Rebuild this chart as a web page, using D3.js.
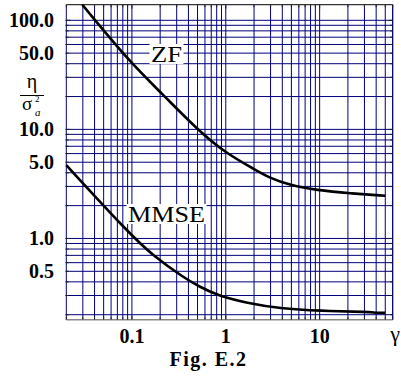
<!DOCTYPE html>
<html>
<head>
<meta charset="utf-8">
<script src="https://cdn.jsdelivr.net/npm/d3@7"></script>
<style>
  html, body { margin: 0; padding: 0; background: #fff; }
  svg { display: block; }
</style>
</head>
<body>
<svg id="chart" width="401" height="380"></svg>
<script>
// ---- data ----
const gammaZF = [0.0296, 0.0976, 0.204, 0.503, 1.01, 1.95, 2.94, 4.81, 9.29, 21.1, 49.9];
const etaZF   = [139, 40.3, 21.8, 9.85, 6.02, 4.39, 3.58, 3.08, 2.77, 2.59, 2.46];
const gammaMMSE = [0.02, 0.0936, 0.166, 0.348, 0.525, 0.858, 1.66, 3.76, 10.1, 34.5, 38.9, 49.9];
const etaMMSE   = [4.70, 1.11, 0.703, 0.444, 0.360, 0.296, 0.257, 0.228, 0.217, 0.212, 0.208, 0.208];
const xTickValues = [0.1, 1, 10];
const xTickLabels = ["0.1", "1", "10"];
const yTickValues = [100, 50, 10, 5, 1, 0.5];
const yTickLabels = ["100.0", "50.0", "10.0", "5.0", "1.0", "0.5"];
const xGrid = [0.02,0.03,0.04,0.05,0.06,0.07,0.08,0.09,0.1,0.2,0.3,0.4,0.5,0.6,0.7,0.8,0.9,1,2,3,4,5,6,7,8,9,10,20,30,40,50,60];
const yGrid = [0.2,0.3,0.4,0.5,0.6,0.7,0.8,0.9,1,2,3,4,5,6,7,8,9,10,20,30,40,50,60,70,80,90,100];
const seriesNames = ["ZF", "MMSE"];

// ---- layout ----
const pL = 66.3, pR = 392.7, pT = 4.7, pB = 319.7;
const x = d3.scaleLog().domain([0.02, 60]).range([pL, pR]);
const y = d3.scaleLog().domain([0.18, 139]).range([pB, pT]);

const svg = d3.select("#chart");
const navy = "#00007a";
const serif = "'Liberation Serif', 'Times New Roman', serif";

// grid
const g = svg.append("g");
g.selectAll("line.vx").data(xGrid).join("line")
  .attr("x1", d => x(d)).attr("x2", d => x(d))
  .attr("y1", pT).attr("y2", pB)
  .attr("stroke", navy).attr("stroke-width", 1);
g.selectAll("line.hy").data(yGrid).join("line")
  .attr("y1", d => y(d)).attr("y2", d => y(d))
  .attr("x1", pL).attr("x2", pR)
  .attr("stroke", navy).attr("stroke-width", 1);

// frame
svg.append("line").attr("x1", pL).attr("x2", pR).attr("y1", pT).attr("y2", pT)
  .attr("stroke", "#333").attr("stroke-width", 1.2);
svg.append("line").attr("x1", pL).attr("x2", pR).attr("y1", pB).attr("y2", pB)
  .attr("stroke", "#888").attr("stroke-width", 1.6);
svg.append("line").attr("x1", pR).attr("x2", pR).attr("y1", pT).attr("y2", pB)
  .attr("stroke", navy).attr("stroke-width", 1);

// ticks (inward, on all sides)
const isMajor = v => Math.abs(Math.log10(v) - Math.round(Math.log10(v))) < 1e-6;
const tk = svg.append("g").attr("stroke", "#222").attr("stroke-width", 1);
xGrid.forEach(v => {
  const L = isMajor(v) ? 4 : 2.5;
  tk.append("line").attr("x1", x(v)).attr("x2", x(v)).attr("y1", pT).attr("y2", pT + L);
  tk.append("line").attr("x1", x(v)).attr("x2", x(v)).attr("y1", pB).attr("y2", pB - L);
});
yGrid.forEach(v => {
  const L = isMajor(v) ? 4 : 2.5;
  tk.append("line").attr("y1", y(v)).attr("y2", y(v)).attr("x1", pL - 1).attr("x2", pL + L);
  tk.append("line").attr("y1", y(v)).attr("y2", y(v)).attr("x1", pR).attr("x2", pR - L);
});

// curves
const line = d3.line().x(d => x(d[0])).y(d => y(d[1])).curve(d3.curveBasis);
const zf = gammaZF.map((g, i) => [g, etaZF[i]]);
const mm = gammaMMSE.map((g, i) => [g, etaMMSE[i]]);
[zf, mm].forEach(s => {
  svg.append("path").attr("d", line(s)).attr("fill", "none")
    .attr("stroke", "#000").attr("stroke-width", 2.6).attr("stroke-linejoin", "round");
});

// series labels with white boxes
function label(txt, xs, ys, len) {
  const t = svg.append("text").attr("x", xs).attr("y", ys)
    .attr("font-family", serif)
    .attr("font-size", 23).attr("fill", "#000")
    .attr("textLength", len).attr("lengthAdjust", "spacingAndGlyphs").text(txt);
  const b = t.node().getBBox();
  svg.insert("rect", "text").attr("x", b.x - 1.5).attr("y", b.y + 2).attr("width", b.width + 3)
    .attr("height", b.height - 5).attr("fill", "#fff");
}
label(seriesNames[0], 151, 62, 31);
label(seriesNames[1], 128, 222, 77);

// y tick labels
svg.append("g").selectAll("text").data(yTickValues).join("text")
  .attr("x", 54).attr("y", d => y(d) + 7)
  .attr("text-anchor", "end").attr("font-family", serif)
  .attr("font-weight", "bold").attr("font-size", 20)
  .text((d, i) => yTickLabels[i]);

// x tick labels
svg.append("g").selectAll("text").data(xTickValues).join("text")
  .attr("x", d => x(d)).attr("y", 343)
  .attr("text-anchor", "middle").attr("font-family", serif)
  .attr("font-weight", "bold").attr("font-size", 20)
  .text((d, i) => xTickLabels[i]);

// axis labels
svg.append("text").attr("x", 395).attr("y", 341).attr("text-anchor", "middle")
  .attr("font-family", serif).attr("font-size", 22).text("γ");

const yl = svg.append("g").attr("font-family", serif).attr("fill", "#000");
yl.append("text").attr("x", 32).attr("y", 88).attr("text-anchor", "middle").attr("font-size", 20).text("η");
yl.append("line").attr("x1", 20).attr("x2", 44).attr("y1", 95.5).attr("y2", 95.5).attr("stroke", "#000").attr("stroke-width", 1);
yl.append("text").attr("x", 22).attr("y", 110).attr("font-size", 19).text("σ");
yl.append("text").attr("x", 35).attr("y", 102).attr("font-size", 9).text("2");
yl.append("text").attr("x", 35).attr("y", 115.5).attr("font-size", 11).attr("font-style", "italic").text("a");

// caption
svg.append("text").attr("x", 208.5).attr("y", 366).attr("text-anchor", "middle")
  .attr("font-family", serif).attr("font-weight", "bold").attr("font-size", 20)
  .attr("letter-spacing", 1.5).text("Fig. E.2");
</script>
</body>
</html>
